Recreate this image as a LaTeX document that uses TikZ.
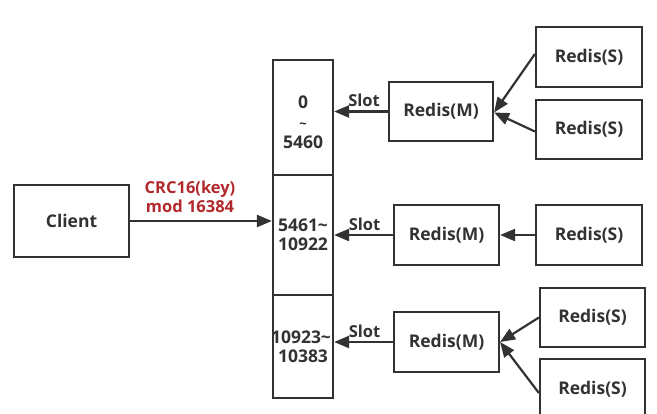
\documentclass[tikz,border=0pt]{standalone}
\usepackage{fontspec}
\setmainfont{Open Sans}
\usetikzlibrary{arrows.meta}
\definecolor{ln}{RGB}{50,50,50}
\definecolor{crc}{RGB}{178,40,45}
\begin{document}
\begin{tikzpicture}[x=1pt,y=-1pt,
  every node/.style={font=\fontsize{17.5}{19}\selectfont\bfseries, text=ln},
  box/.style={draw=ln, line width=2.2pt, minimum width=#1, inner sep=0pt},
  conn/.style={draw=ln, line width=2.2pt, -{Triangle[length=15pt,width=12pt]}},
  lbl/.style={font=\fontsize{16.5}{19}\selectfont\bfseries}]
\useasboundingbox (0,0) rectangle (657,413);
\clip (0,0) rectangle (657,413);
% client
\node[box=115pt, minimum height=72pt] (client) at (71.5,221) {Client};
% slot column
\node[box=60pt, minimum height=115pt] (c1) at (303,117.5) {};
\node[align=center] (t1) at (303,122) {0\\[1pt]{\fontsize{13}{13}\selectfont\textasciitilde}\\[1pt]5460};
\node[box=60pt, minimum height=120pt, align=center] (c2) at (303,235) {5461\textasciitilde\\10922};
\node[box=60pt, minimum height=103pt, align=center] (c3) at (303,346.5) {\hspace*{-4pt}10923\textasciitilde\\10383};
% masters
\node[box=104pt, minimum height=59pt] (m1) at (441,111.5) {Redis(M)};
\node[box=105pt, minimum height=60pt] (m2) at (446.5,235) {Redis(M)};
\node[box=105pt, minimum height=60pt] (m3) at (446.5,342) {Redis(M)};
% slaves
\node[box=106pt, minimum height=60pt] (s1) at (589,57) {Redis(S)};
\node[box=106pt, minimum height=59pt] (s2) at (589,129.5) {Redis(S)};
\node[box=106pt, minimum height=60pt] (s3) at (589,235) {Redis(S)};
\node[box=105pt, minimum height=59pt] (s4) at (592.5,317.5) {Redis(S)};
\node[box=105pt, minimum height=60pt] (s5) at (592.5,389) {Redis(S)};
% connectors
\draw[conn] (client) -- (client -| c2.west);
\node[lbl, text=crc, align=center] (crclbl) at (190,197) {CRC16(key)\\mod 16384};
\draw[conn] (m1) -- (m1 -| c1.east) node[lbl, midway, above=0pt, xshift=3pt] (sl1) {Slot};
\draw[conn] (m2) -- (m2 -| c2.east) node[lbl, midway, above=0pt, xshift=1pt] (sl2) {Slot};
\draw[conn] (m3) -- (m3 -| c3.east) node[lbl, midway, above=0pt, xshift=1pt] (sl3) {Slot};
\coordinate (m1e) at ([yshift=-1pt]m1.east);
\draw[conn] ([yshift=3pt]s1.west) -- (m1e);
\draw[conn] ([yshift=-2pt]s2.west) -- (m1e);
\draw[conn] (s3) -- (m2);
\draw[conn] (s4.west) -- (m3.east);
\draw[conn] ([yshift=-4pt]s5.west) -- (m3.east);
\end{tikzpicture}
\end{document}
